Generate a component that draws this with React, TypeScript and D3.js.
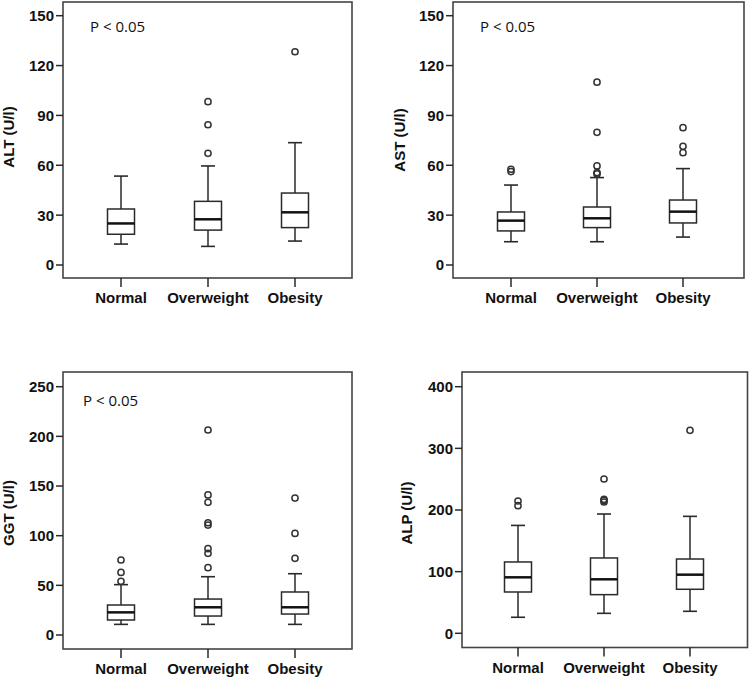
import React from "react";
import * as d3 from "d3";

const categories = ["Normal", "Overweight", "Obesity"];

// [whiskerLow, q1, median, q3, whiskerHigh]
const altStats = [
  [12.6, 18.5, 25, 33.7, 53.5],
  [11.2, 21, 27.5, 38.3, 59.6],
  [14.4, 22.5, 31.7, 43.3, 73.6],
];
const altOutliers = [[], [67.2, 84.4, 98.3], [128.3]];

const astStats = [
  [14, 20.5, 26.7, 31.9, 48.1],
  [14, 22.5, 28.1, 34.9, 52.6],
  [16.8, 25.3, 32.1, 39.1, 58],
];
const astOutliers = [[56.2, 57.6], [54.8, 55.6, 59.6, 79.8, 110], [67.6, 71.4, 82.6]];

const ggtStats = [
  [10.7, 15.1, 22.8, 30.2, 50.7],
  [10.7, 19.1, 27.9, 36.2, 58.7],
  [10.7, 21.1, 27.9, 43.3, 61.7],
];
const ggtOutliers = [
  [54, 63, 75.5],
  [67.8, 82.2, 86.9, 110.7, 113, 133.6, 141, 206.4],
  [77.2, 102.3, 137.9],
];

const alpStats = [
  [26, 67, 90.8, 115.7, 175],
  [32.4, 62.7, 87.6, 122.2, 193.5],
  [35.7, 71.4, 95.1, 120.5, 189.7],
];
const alpOutliers = [[207, 214.6], [213, 215.5, 217.3, 250.3], [329.2]];

const altTicks = [0, 30, 60, 90, 120, 150];
const astTicks = [0, 30, 60, 90, 120, 150];
const ggtTicks = [0, 50, 100, 150, 200, 250];
const alpTicks = [0, 100, 200, 300, 400];

const panels = [
  {
    label: "ALT (U/l)", stats: altStats, outliers: altOutliers, ticks: altTicks, max: 150,
    fx0: 63, fx1: 352, fy0: 2, fy1: 278, yTop: 15.7, yZero: 265, cx0: 121, cx1: 295,
    labelX: 9, labelY: 137, p: true, px: 90, py: 32,
  },
  {
    label: "AST (U/l)", stats: astStats, outliers: astOutliers, ticks: astTicks, max: 150,
    fx0: 453, fx1: 744, fy0: 2, fy1: 278, yTop: 15.7, yZero: 265, cx0: 511, cx1: 683,
    labelX: 400, labelY: 140, p: true, px: 480, py: 32,
  },
  {
    label: "GGT (U/l)", stats: ggtStats, outliers: ggtOutliers, ticks: ggtTicks, max: 250,
    fx0: 63, fx1: 352, fy0: 372, fy1: 649, yTop: 386.7, yZero: 635, cx0: 121, cx1: 295,
    labelX: 9, labelY: 513, p: true, px: 83, py: 406,
  },
  {
    label: "ALP (U/l)", stats: alpStats, outliers: alpOutliers, ticks: alpTicks, max: 400,
    fx0: 462, fx1: 747.5, fy0: 372, fy1: 647.5, yTop: 386.7, yZero: 633.3, cx0: 518, cx1: 690,
    labelX: 407, labelY: 513, p: false, px: 0, py: 0,
  },
];

const lineColor = "#2a2a2a";
const frameColor = "#444";
const font = "'Liberation Sans', Arial, sans-serif";

function Panel({ cfg }: { cfg: any }) {
  const y = d3.scaleLinear().domain([0, cfg.max]).range([cfg.yZero, cfg.yTop]);
  const x = d3.scalePoint<string>().domain(categories).range([cfg.cx0, cfg.cx1]);
  const bw = 27;
  const cw = 14;
  return (
    <g>
      <rect x={cfg.fx0} y={cfg.fy0} width={cfg.fx1 - cfg.fx0} height={cfg.fy1 - cfg.fy0}
        fill="none" stroke={frameColor} strokeWidth={1.6} />
      {cfg.ticks.map((t: number) => (
        <g key={t}>
          <line x1={cfg.fx0 - 7} x2={cfg.fx0} y1={y(t)} y2={y(t)} stroke={lineColor} strokeWidth={1.5} />
          <text x={cfg.fx0 - 9} y={y(t)} dy="0.36em" textAnchor="end" fontFamily={font}
            fontWeight="bold" fontSize={15} fill="#111">{t}</text>
        </g>
      ))}
      {categories.map((c) => (
        <g key={c}>
          <line x1={x(c)} x2={x(c)} y1={cfg.fy1} y2={cfg.fy1 + 9} stroke={lineColor} strokeWidth={1.5} />
          <text x={x(c)} y={cfg.fy1 + 25} textAnchor="middle" fontFamily={font}
            fontWeight="bold" fontSize={15} fill="#111">{c}</text>
        </g>
      ))}
      <text transform={`translate(${cfg.labelX},${cfg.labelY}) rotate(-90)`} dy="0.36em"
        textAnchor="middle" fontFamily={font} fontWeight="bold" fontSize={15} fill="#111">
        {cfg.label}
      </text>
      {cfg.p && (
        <text x={cfg.px} y={cfg.py} fontFamily="'Open Sans', 'Noto Sans', sans-serif" fontSize={15} fill="#111">
          P &lt; 0.05
        </text>
      )}
      {categories.map((c, i) => {
        const [lo, q1, med, q3, hi] = cfg.stats[i];
        const cx = x(c) as number;
        return (
          <g key={c}>
            <line x1={cx} x2={cx} y1={y(q3)} y2={y(hi)} stroke={lineColor} strokeWidth={1.5} />
            <line x1={cx} x2={cx} y1={y(q1)} y2={y(lo)} stroke={lineColor} strokeWidth={1.5} />
            <line x1={cx - cw / 2} x2={cx + cw / 2} y1={y(hi)} y2={y(hi)} stroke={lineColor} strokeWidth={1.6} />
            <line x1={cx - cw / 2} x2={cx + cw / 2} y1={y(lo)} y2={y(lo)} stroke={lineColor} strokeWidth={1.6} />
            <rect x={cx - bw / 2} y={y(q3)} width={bw} height={y(q1) - y(q3)} fill="#fff"
              stroke={lineColor} strokeWidth={1.5} />
            <line x1={cx - bw / 2} x2={cx + bw / 2} y1={y(med)} y2={y(med)} stroke="#111" strokeWidth={2.5} />
            {cfg.outliers[i].map((o: number, k: number) => (
              <circle key={k} cx={cx} cy={y(o)} r={3.1} fill="none" stroke="#333" strokeWidth={1.5} />
            ))}
          </g>
        );
      })}
    </g>
  );
}

export default function App() {
  return (
    <svg width={749} height={677} style={{ position: "absolute", left: 0, top: 0, background: "#fff" }}>
      <rect width={749} height={677} fill="#fff" />
      {panels.map((p, i) => (
        <Panel key={i} cfg={p} />
      ))}
    </svg>
  );
}
